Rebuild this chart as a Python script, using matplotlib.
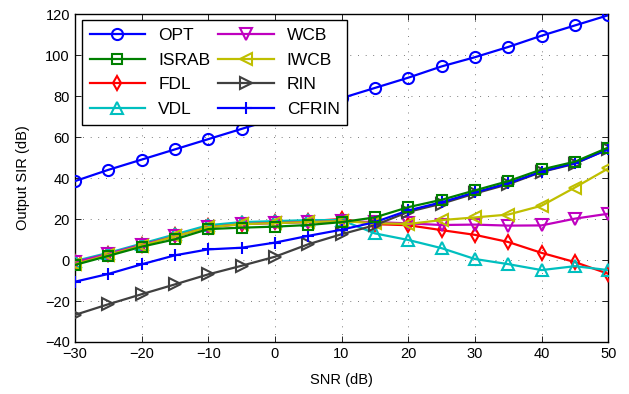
import matplotlib
matplotlib.use('Agg')
import matplotlib.pyplot as plt

plt.rcParams['font.family'] = ['Liberation Sans', 'DejaVu Sans']

snr = [-30, -25, -20, -15, -10, -5, 0, 5, 10, 15, 20, 25, 30, 35, 40, 45, 50]

opt = [38.5, 44, 49, 54, 59, 64, 69, 74, 79, 84, 89, 94.5, 99, 104, 109.5, 114.5, 119.5]
israb = [-2.4, 2, 6.5, 10.1, 15.1, 15.8, 16.3, 17.1, 18.5, 20.8, 25.8, 29.4, 34, 38.5, 44.2, 48, 54.9]
fdl = [-1, 3, 7.5, 12, 16.5, 17.5, 18.5, 19, 20, 17.5, 17, 14.6, 12.3, 8.8, 3.5, -1, -6.7]
vdl = [-0.5, 3.5, 8, 12.5, 17, 18.5, 19, 19.5, 19.5, 13, 9.8, 5.8, 0.5, -2, -4.9, -3, -4.9]
wcb = [-1, 3, 7.5, 11.5, 16, 17.5, 18, 18.5, 19, 18.5, 17.9, 17.1, 17.3, 16.8, 16.9, 20.2, 22.6]
iwcb = [-2, 2.5, 7, 11.5, 16, 17.5, 18, 18.5, 19, 18, 17.6, 19.5, 20.8, 22.2, 26.5, 35.4, 44.7]
rin = [-26.8, -21.6, -16.7, -11.9, -7, -2.8, 1.6, 7.7, 12.6, 17, 23.5, 27.5, 32.5, 37, 43, 47, 54.2]
cfrin = [-10.6, -6.8, -2.1, 2.3, 5.2, 6, 8.5, 11.8, 14.8, 18.5, 24.2, 28.2, 33, 37.5, 43.2, 47.3, 54]

# name, values, color, marker
series = [
    ('OPT', opt, (0, 0, 1), 'o'),
    ('ISRAB', israb, (0, 0.5, 0), 's'),
    ('FDL', fdl, (1, 0, 0), 'd'),
    ('VDL', vdl, (0, 0.75, 0.75), '^'),
    ('WCB', wcb, (0.75, 0, 0.75), 'v'),
    ('IWCB', iwcb, (0.75, 0.75, 0), '<'),
    ('RIN', rin, (0.25, 0.25, 0.25), '>'),
    ('CFRIN', cfrin, (0, 0, 1), '+'),
]
zorder = {'OPT': 3, 'FDL': 3, 'VDL': 3, 'WCB': 3, 'IWCB': 3, 'RIN': 4, 'CFRIN': 4, 'ISRAB': 5}
msize = {'o': 8, 's': 7, 'd': 7.5, '^': 8, 'v': 8, '<': 8, '>': 8, '+': 9}

fig = plt.figure(figsize=(6.29, 3.94), dpi=100)
ax = fig.add_axes([0.119, 0.132, 0.848, 0.832])

handles = []
for name, vals, col, mk in series:
    h, = ax.plot(snr, vals, color=col, marker=mk, markersize=msize[mk], markerfacecolor='none',
                 markeredgecolor=col, markeredgewidth=1.5, linewidth=1.6, label=name,
                 zorder=zorder[name])
    handles.append(h)

ax.set_xlim(-30, 50)
ax.set_ylim(-40, 120)
ax.set_xticks(range(-30, 51, 10))
ax.set_yticks(range(-40, 121, 20))
ax.tick_params(direction='in', top=True, right=True, labelsize=10.5, length=4, width=0.6)
ax.grid(True, color='black', linestyle=(0, (1, 10)), linewidth=0.5)
for s in ax.spines.values():
    s.set_linewidth(1.0)
ax.set_xlabel('SNR (dB)', fontsize=10.5, labelpad=9)
ax.set_ylabel('Output SIR (dB)', fontsize=10.5, labelpad=11)

leg = ax.legend(handles=handles, ncol=2, loc='upper left', bbox_to_anchor=(0.013, 0.982),
                borderaxespad=0, fancybox=False, framealpha=1, edgecolor='black',
                fontsize=12.5, handlelength=3.2, handletextpad=0.75, columnspacing=0.45,
                labelspacing=0.55, borderpad=0.45)
leg.get_frame().set_linewidth(1.0)
leg.set_zorder(10)

plt.savefig('out.png', dpi=100)
